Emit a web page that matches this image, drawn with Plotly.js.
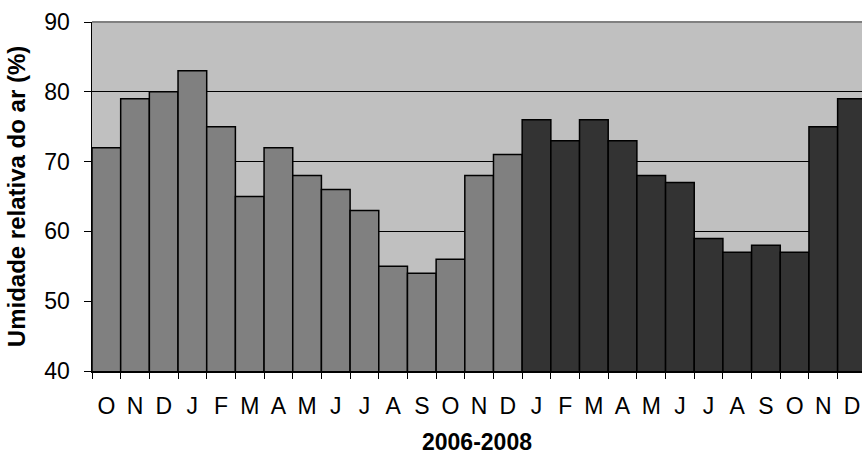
<!DOCTYPE html>
<html>
<head>
<meta charset="utf-8">
<script src="https://cdn.plot.ly/plotly-3.0.1.min.js"></script>
<style>html,body{margin:0;padding:0;background:#fff;}#chart{width:862px;height:459px;}</style>
</head>
<body>
<div id="chart"></div>
<script>
// Months Oct 2006 – Dec 2008
const months = ["O","N","D","J","F","M","A","M","J","J","A","S","O","N","D","J","F","M","A","M","J","J","A","S","O","N","D"];
const humidity = [72,79,80,83,75,65,72,68,66,63,55,54,56,68,71,76,73,76,73,68,67,59,57,58,57,75,79];
// series: first 15 months (Oct 2006–Dec 2007) light, then 2008 dark
const period = ["a","a","a","a","a","a","a","a","a","a","a","a","a","a","a","b","b","b","b","b","b","b","b","b","b","b","b"];
const periodColors = {a: "#808080", b: "#333333"};
const yTicks = [40,50,60,70,80,90];

const idx = months.map((m,i)=>i);
const boundaries = months.map((m,i)=>i-0.5).concat([months.length-0.5]);

const trace = {
  type: "bar",
  x: idx,
  y: humidity,
  base: 0,
  marker: {color: period.map(p=>periodColors[p]), line: {color: "#000", width: 1.5}},
  width: 1,
  hoverinfo: "skip"
};

const xr = [-0.5, 26.35];
const layout = {
  width: 862, height: 459,
  margin: {l: 92, r: 0, t: 22, b: 88},
  paper_bgcolor: "#fff",
  plot_bgcolor: "#C0C0C0",
  font: {family: "Liberation Sans, Arial, sans-serif", color: "#000", size: 23},
  bargap: 0,
  showlegend: false,
  xaxis: {
    range: xr, tickmode: "array", tickvals: idx, ticktext: months,
    ticks: "", showgrid: false, zeroline: false,
    showline: true, linecolor: "#000", linewidth: 2,
    tickfont: {size: 23}, ticklabelstandoff: 13,
    title: {text: "2006-2008", font: {size: 23, weight: "bold"}, standoff: 16}
  },
  xaxis2: {
    overlaying: "x", anchor: "y", side: "bottom", range: xr,
    tickmode: "array", tickvals: boundaries, showticklabels: false,
    ticks: "outside", ticklen: 7, tickwidth: 1, tickcolor: "#000",
    showgrid: false, zeroline: false, showline: false
  },
  yaxis: {
    range: [40, 90], tickmode: "array", tickvals: yTicks,
    ticks: "outside", ticklen: 7, tickcolor: "#000", tickwidth: 1,
    showgrid: true, gridcolor: "#000", gridwidth: 1, zeroline: false,
    showline: true, linecolor: "#000", linewidth: 1.5,
    tickfont: {size: 23}, ticklabelstandoff: 9,
    title: {text: "Umidade relativa do ar (%)", font: {size: 24, weight: "bold"}, standoff: 12}
  },
  shapes: [{type: "line", xref: "paper", yref: "paper", x0: 0, x1: 1, y0: 1, y1: 1, line: {color: "#808080", width: 2}}]
};

Plotly.newPlot("chart", [trace, {type: "scatter", x: [], y: [], xaxis: "x2", yaxis: "y"}], layout, {displayModeBar: false, staticPlot: true});
</script>
</body>
</html>
